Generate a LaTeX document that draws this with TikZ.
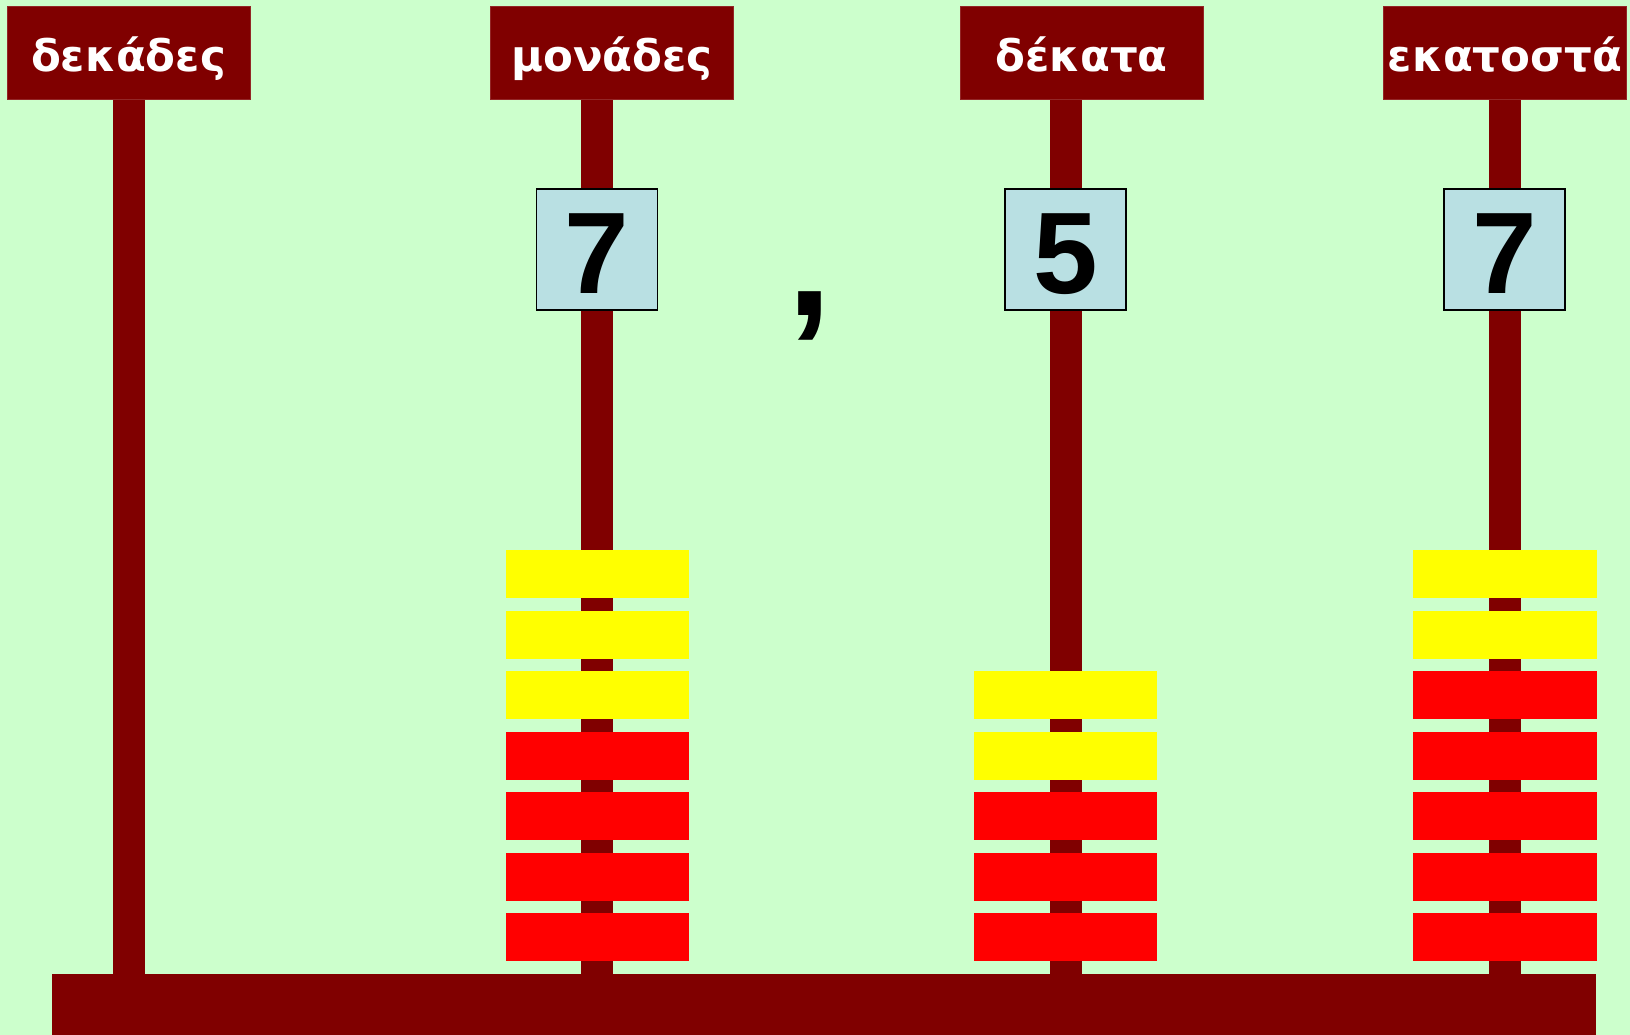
\documentclass[tikz,border=0pt]{standalone}
\usepackage{fontspec}
\setmainfont{DejaVu Sans}
\newfontfamily\labfont{DejaVu Sans}
\newfontfamily\digfont{Liberation Sans}
\definecolor{bg}{HTML}{CCFFCC}
\definecolor{maroon}{HTML}{800000}
\definecolor{numblue}{HTML}{B9E0E3}
\definecolor{beadyellow}{HTML}{FFFF00}
\definecolor{beadred}{HTML}{FF0000}
\tikzset{
  labbox/.style={fill=maroon, draw=maroon!85!white, line width=0.8pt, minimum width=243pt, minimum height=93pt, inner sep=0pt},
  labtext/.style={anchor=base, text=white, inner sep=0pt, font=\labfont\bfseries\fontsize{43.5}{43.5}\selectfont},
  numbox/.style={fill=numblue, draw=black, line width=1.5pt, minimum width=121pt, minimum height=121pt, inner sep=0pt},
  numtext/.style={anchor=base, text=black, inner sep=0pt, font=\digfont\bfseries\fontsize{116}{116}\selectfont},
  ybead/.style={fill=beadyellow},
  rbead/.style={fill=beadred},
  pole/.style={fill=maroon}
}
\begin{document}
\begin{tikzpicture}[x=1pt,y=-1pt]
\useasboundingbox (0,0) rectangle (1630,1035);
\fill[bg] (0,0) rectangle (1630,1035);
% poles
\fill[pole] (113,99) rectangle (145,975);
\fill[pole] (581,99) rectangle (613,975);
\fill[pole] (1050,99) rectangle (1082,975);
\fill[pole] (1489,99) rectangle (1521,975);
% base
\fill[pole] (52,974) rectangle (1596,1035);
% beads: monades (3 yellow, 4 red)
\foreach \i in {0,1,2} \fill[ybead] (506,{550+60.5*\i}) rectangle (689,{598+60.5*\i});
\foreach \i in {3,4,5,6} \fill[rbead] (506,{550+60.5*\i}) rectangle (689,{598+60.5*\i});
% beads: dekata (2 yellow, 3 red)
\foreach \i in {2,3} \fill[ybead] (974,{550+60.5*\i}) rectangle (1157,{598+60.5*\i});
\foreach \i in {4,5,6} \fill[rbead] (974,{550+60.5*\i}) rectangle (1157,{598+60.5*\i});
% beads: ekatosta (2 yellow, 5 red)
\foreach \i in {0,1} \fill[ybead] (1413,{550+60.5*\i}) rectangle (1597,{598+60.5*\i});
\foreach \i in {2,3,4,5,6} \fill[rbead] (1413,{550+60.5*\i}) rectangle (1597,{598+60.5*\i});
% label boxes
\node[labbox] (b1) at (128.5,52.5) {};
\node[labbox] (b2) at (612,52.5) {};
\node[labbox] (b3) at (1081.5,52.5) {};
\node[labbox] (b4) at (1505,52.5) {};
\node[labtext] (t1) at (128.5,72) {δεκάδες};
\node[labtext] (t2) at (612,72) {μονάδες};
\node[labtext] (t3) at (1081.5,72) {δέκατα};
\node[labtext] (t4) at (1505,72) {εκατοστά};
% number boxes
\node[numbox] (n1) at (597,249.5) {};
\node[numbox] (n2) at (1065.5,249.5) {};
\node[numbox] (n3) at (1504.5,249.5) {};
\node[numtext] (d1) at (597,293) {7};
\node[numtext] (d2) at (1065.5,293) {5};
\node[numtext] (d3) at (1504.5,293) {7};
% comma
\node[anchor=base, inner sep=0pt, font=\digfont\bfseries\fontsize{160}{160}\selectfont] (comma) at (810,315) {,};
\end{tikzpicture}
\end{document}
